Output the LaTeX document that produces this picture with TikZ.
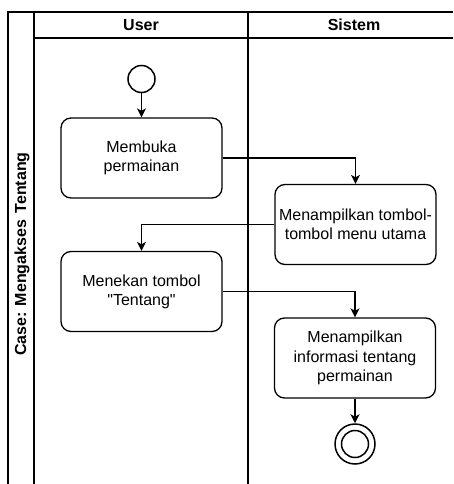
\documentclass[tikz,border=0pt]{standalone}
\usepackage{fontspec}
\setmainfont{Liberation Sans}[Ligatures=TeXOff]
\usetikzlibrary{arrows.meta}
\begin{document}
\begin{tikzpicture}[x=1pt,y=-1pt,
  lane/.style={line width=1.2pt,draw=black},
  action/.style={draw=black,line width=1.3pt,rounded corners=10pt,
    minimum width=161pt,minimum height=80pt,align=center,
    font=\fontsize{16}{19.2}\selectfont,inner sep=2pt},
  flow/.style={line width=1.3pt,-{Stealth[length=9pt,width=9pt,inset=2.5pt]}},
  hdr/.style={font=\bfseries\fontsize{16}{19.2}\selectfont}]
\useasboundingbox (0,0) rectangle (453,484);
% swimlane frame
\draw[lane] (8,484) -- (8,12) -- (453,12);
\draw[lane] (34,12) -- (34,484);
\draw[lane] (34,38) -- (453,38);
\draw[lane] (248,12) -- (248,484);
% titles
\node[hdr] (tUser) at (141,25) {User};
\node[hdr] (tSis) at (354,25) {Sistem};
\node[hdr,rotate=90] (tCase) at (22,254) {Case: Mengakses\hspace{2pt} Tentang};
% nodes
\node[circle,draw=black,line width=1.5pt,minimum size=27pt,inner sep=0pt] (start) at (141.5,79) {};
\node[action] (b1) at (141.5,158) {Membuka\\permainan};
\node[action] (b2) at (355.5,224.5) {Menampilkan tombol-\\tombol menu utama};
\node[action] (b3) at (141.5,291.5) {Menekan tombol\\"Tentang"};
\node[action] (b4) at (355,358) {Menampilkan\\informasi tentang\\permainan};
\node[circle,draw=black,line width=1.5pt,minimum size=40pt,inner sep=0pt] (fin) at (355,444) {};
\draw[line width=1.5pt] (fin.center) circle (13.5pt);
% connectors
\draw[flow] (start) -- (b1);
\draw[flow] (b1.east) -| (b2.north);
\draw[flow] (b2.west) -| (b3.north);
\draw[flow] (b3.east) -| (b4.north);
\draw[flow] (b4) -- (fin);
\end{tikzpicture}
\end{document}
